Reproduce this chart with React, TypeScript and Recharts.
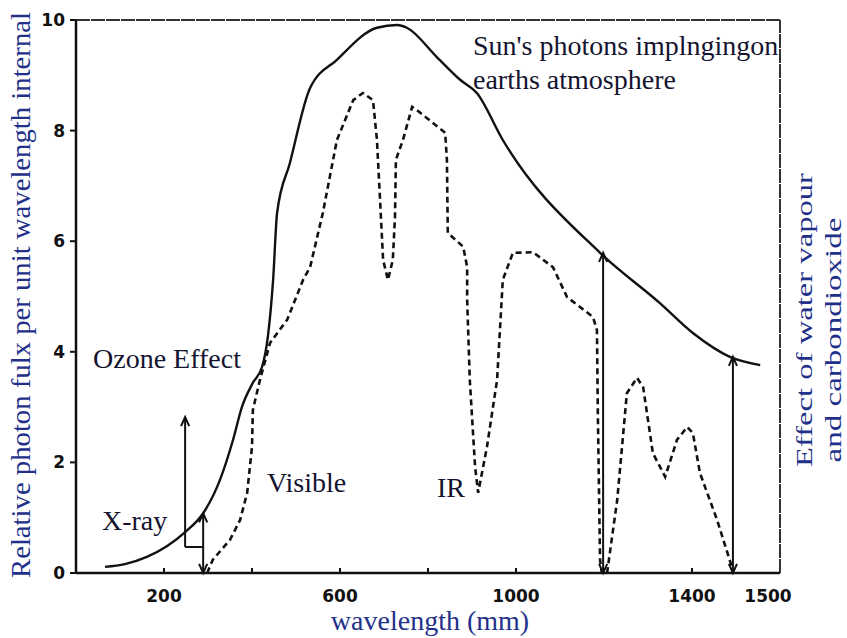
import React from 'react';
import { LineChart, Line, XAxis, YAxis, ReferenceLine } from 'recharts';

// Sun's photons impinging on earth's atmosphere (solid curve)
const sunWavelength = [66, 111, 161, 248, 289, 327, 357, 377, 402, 423, 436, 448, 457, 486, 532, 593, 684, 730, 752, 820, 873, 911, 970, 1191, 1327, 1402, 1486, 1555];
const sunFlux = [0.11, 0.16, 0.29, 0.74, 1.08, 1.68, 2.41, 3.0, 3.44, 3.73, 4.27, 5.3, 6.51, 7.41, 8.77, 9.28, 9.86, 9.91, 9.86, 9.33, 8.92, 8.68, 7.83, 5.79, 4.88, 4.34, 3.91, 3.76];

// Photons reaching the surface (dashed curve)
const surfaceWavelength = [298, 311, 350, 373, 389, 400, 402, 418, 441, 480, 516, 532, 561, 593, 630, 652, 675, 684, 691, 698, 709, 720, 725, 727, 743, 764, 775, 839, 843, 845, 880, 889, 889, 895, 907, 914, 934, 957, 970, 993, 1039, 1084, 1116, 1175, 1184, 1186, 1191, 1195, 1207, 1230, 1252, 1275, 1289, 1311, 1339, 1366, 1389, 1402, 1418, 1457, 1493];
const surfaceFlux = [0, 0.24, 0.6, 0.96, 1.45, 2.28, 2.95, 3.49, 4.16, 4.58, 5.3, 5.53, 6.51, 7.83, 8.55, 8.68, 8.55, 7.83, 6.75, 5.66, 5.3, 5.66, 6.44, 7.47, 7.83, 8.43, 8.37, 7.96, 7.47, 6.15, 5.9, 5.53, 4.94, 3.49, 1.92, 1.45, 2.28, 3.49, 5.3, 5.79, 5.8, 5.53, 4.99, 4.63, 4.39, 2.89, 0.24, 0, 0, 1.32, 3.25, 3.53, 3.36, 2.17, 1.74, 2.41, 2.64, 2.53, 1.81, 0.96, 0.05];

const xTicks = [200, 400, 600, 800, 1000, 1200, 1400, 1500];
const xLabelled = [200, 600, 1000, 1400, 1500];
const yTicks = [0, 2, 4, 6, 8, 10];

// Arrows: x, from, to, heads
const arrowX = [248, 289, 1198, 1493];
const arrowFrom = [0.47, 0, 0, 0];
const arrowTo = [2.82, 1.08, 5.79, 3.91];
const arrowHeadFrom = [false, true, true, true];
const arrowHeadTo = [true, true, true, true];

// bracket between the two ozone arrows
const bracketY = 0.47;
const bracketX = [248, 289];

const sunData = sunWavelength.map((x, i) => ({ x, y: sunFlux[i] }));
const surfaceData = surfaceWavelength.map((x, i) => ({ x, y: surfaceFlux[i] }));

const INK = '#111';
const NOTE = '#141430';
const TITLE = '#22308a';
const SERIF = '"Liberation Serif", "Times New Roman", serif';
const TICKFONT = '"DejaVu Sans", Arial, sans-serif';

const makeArrow = (headStart: boolean, headEnd: boolean) => (p: any) => {
  const { x1, y1, x2, y2 } = p;
  const head = (tx: number, ty: number, fx: number, fy: number, key: string) => {
    const ang = Math.atan2(ty - fy, tx - fx);
    const L = 10;
    const a = 0.42;
    const ax = tx - L * Math.cos(ang - a);
    const ay = ty - L * Math.sin(ang - a);
    const bx = tx - L * Math.cos(ang + a);
    const by = ty - L * Math.sin(ang + a);
    return <path key={key} d={`M${ax},${ay} L${tx},${ty} L${bx},${by}`} fill="none" stroke={INK} strokeWidth={2} />;
  };
  return (
    <g>
      <line x1={x1} y1={y1} x2={x2} y2={y2} stroke={INK} strokeWidth={2} />
      {headStart && head(x1, y1, x2, y2, 's')}
      {headEnd && head(x2, y2, x1, y1, 'e')}
    </g>
  );
};

const XTick = (props: any) => {
  const { x, y, payload } = props;
  const v = payload.value;
  const showMark = v !== 1500;
  const showLabel = xLabelled.includes(v);
  const dx = v === 1500 ? 32 : 0;
  return (
    <g>
      {showMark && <line x1={x} y1={y} x2={x} y2={y - 5} stroke={INK} strokeWidth={2} />}
      {showLabel && (
        <text x={x + dx} y={y + 29} textAnchor="middle" fontFamily={TICKFONT} fontWeight="bold" fontSize={17} fill={INK}>
          {v}
        </text>
      )}
    </g>
  );
};

export default function App() {
  return (
    <div style={{ position: 'absolute', left: 0, top: 0, width: 847, height: 638, background: '#fff' }}>
      <LineChart width={847} height={638} margin={{ top: 20, right: 67, bottom: 35, left: 36 }}>
        <XAxis
          type="number"
          dataKey="x"
          domain={[0, 1600]}
          ticks={xTicks}
          interval={0}
          tickLine={false}
          tickSize={0}
          tickMargin={0}
          tick={<XTick />}
          height={30}
          axisLine={{ stroke: INK, strokeWidth: 2.5 }}
          allowDataOverflow
        />
        <YAxis
          type="number"
          domain={[0, 10]}
          ticks={yTicks}
          interval={0}
          width={40}
          tickSize={6}
          tickMargin={5}
          tickLine={{ stroke: INK, strokeWidth: 2 }}
          axisLine={{ stroke: INK, strokeWidth: 2.5 }}
          tick={{ fontFamily: TICKFONT, fontWeight: 'bold', fontSize: 17, fill: INK }}
          allowDataOverflow
        />
        <ReferenceLine y={10} stroke="#333" strokeWidth={2} strokeDasharray="14 1" />
        <ReferenceLine x={1600} stroke="#333" strokeWidth={2} strokeDasharray="14 1" />
        <Line data={sunData} dataKey="y" type="monotone" stroke={INK} strokeWidth={2.4} dot={false} activeDot={false} isAnimationActive={false} />
        <Line data={surfaceData} dataKey="y" type="linear" stroke={INK} strokeWidth={2.6} strokeDasharray="6 4" dot={false} activeDot={false} isAnimationActive={false} />
        <ReferenceLine
          segment={[{ x: bracketX[0], y: bracketY }, { x: bracketX[1], y: bracketY }]}
          shape={makeArrow(false, false)}
        />
        {arrowX.map((x, i) => (
          <ReferenceLine
            key={`a${i}`}
            segment={[{ x, y: arrowFrom[i] }, { x, y: arrowTo[i] }]}
            shape={makeArrow(arrowHeadFrom[i], arrowHeadTo[i])}
          />
        ))}
        <text transform="translate(20,295) rotate(-90)" textAnchor="middle" dominantBaseline="central" fontFamily={SERIF} fontSize={28} textLength={566} lengthAdjust="spacingAndGlyphs" fill={TITLE}>
          Relative photon fulx per unit wavelength internal
        </text>
        <text x={430} y={630} textAnchor="middle" fontFamily={SERIF} fontSize={28} fill={TITLE}>
          wavelength (mm)
        </text>
        <text transform="translate(812,320) rotate(-90)" textAnchor="middle" fontFamily={SERIF} fontSize={23} textLength={294} lengthAdjust="spacingAndGlyphs" fill={TITLE}>
          Effect of water vapour
        </text>
        <text transform="translate(841,340) rotate(-90)" textAnchor="middle" fontFamily={SERIF} fontSize={23} textLength={245} lengthAdjust="spacingAndGlyphs" fill={TITLE}>
          and carbondioxide
        </text>
        <text x={473} y={55} fontFamily={SERIF} fontSize={28} fill={NOTE}>Sun's photons implngingon</text>
        <text x={473} y={89} fontFamily={SERIF} fontSize={28} fill={NOTE}>earths atmosphere</text>
        <text x={93} y={368} fontFamily={SERIF} fontSize={28} fill={NOTE}>Ozone Effect</text>
        <text x={102} y={530} fontFamily={SERIF} fontSize={28} fill={NOTE}>X-ray</text>
        <text x={267} y={492} fontFamily={SERIF} fontSize={28} fill={NOTE}>Visible</text>
        <text x={437} y={497} fontFamily={SERIF} fontSize={28} fill={NOTE}>IR</text>
      </LineChart>
    </div>
  );
}
